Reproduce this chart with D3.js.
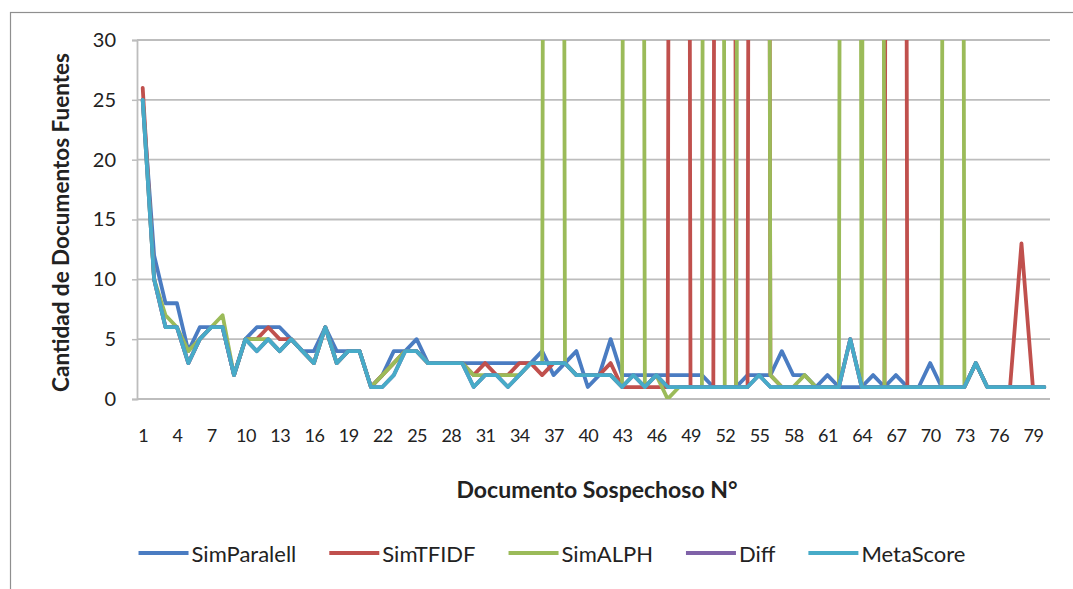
<!DOCTYPE html>
<html>
<head>
<meta charset="utf-8">
<script src="https://cdn.jsdelivr.net/npm/d3@7"></script>
<style>
  html, body { margin: 0; padding: 0; background: #ffffff; }
  svg { display: block; }
  text { font-family: Lato, "Open Sans", sans-serif; fill: #222222; }
</style>
</head>
<body>
<svg id="chart" width="1073" height="589"></svg>
<script>
// Documento sospechoso (x categories)
const documentos = [
   1,  2,  3,  4,  5,  6,  7,  8,  9, 10,
  11, 12, 13, 14, 15, 16, 17, 18, 19, 20,
  21, 22, 23, 24, 25, 26, 27, 28, 29, 30,
  31, 32, 33, 34, 35, 36, 37, 38, 39, 40,
  41, 42, 43, 44, 45, 46, 47, 48, 49, 50,
  51, 52, 53, 54, 55, 56, 57, 58, 59, 60,
  61, 62, 63, 64, 65, 66, 67, 68, 69, 70,
  71, 72, 73, 74, 75, 76, 77, 78, 79, 80
];

// Cantidad de documentos fuentes per method
const simParalell = [
  25, 12,  8,  8,  4,  6,  6,  6,  2,  5,
   6,  6,  6,  5,  4,  4,  6,  4,  4,  4,
   1,  2,  4,  4,  5,  3,  3,  3,  3,  3,
   3,  3,  3,  3,  3,  4,  2,  3,  4,  1,
   2,  5,  2,  2,  2,  2,  2,  2,  2,  2,
   1,  1,  1,  2,  2,  2,  4,  2,  2,  1,
   2,  1,  1,  1,  2,  1,  2,  1,  1,  3,
   1,  1,  1,  3,  1,  1,  1,  1,  1,  1
];
const simTFIDF = [
  26, 10,  6,  6,  3,  5,  6,  6,  2,  5,
   5,  6,  5,  5,  4,  3,  6,  3,  4,  4,
   1,  2,  3,  4,  4,  3,  3,  3,  3,  2,
   3,  2,  2,  3,  3,  2,  3,  3,  2,  2,
   2,  3,  1,  1,  1,  1,  1, 500, 1,  1,
   1, 500, 1,  1, 500, 2,  1,  1,  1,  1,
   1,  1,  5,  1,  1,  1, 500, 1,  1,  1,
   1,  1,  1,  3,  1,  1,  1, 13,  1,  1
];
const simALPH = [
  25, 10,  7,  6,  4,  5,  6,  7,  2,  5,
   5,  5,  4,  5,  4,  3,  6,  3,  4,  4,
   1,  2,  3,  4,  4,  3,  3,  3,  3,  2,
   2,  2,  2,  2,  3,  3, 500, 3,  2,  2,
   2,  2,  1, 500, 1,  2,  0,  1,  1,  1,
 500,  1,  1, 500, 500, 2, 1,  1,  2,  1,
   1,  1, 500, 1, 500, 1,  1,  1,  1,  1,
   1, 500, 1,  3,  1,  1,  1,  1,  1,  1
];
const diff = [
  25, 10,  6,  6,  3,  5,  6,  6,  2,  5,
   4,  5,  4,  5,  4,  3,  6,  3,  4,  4,
   1,  1,  2,  4,  4,  3,  3,  3,  3,  1,
   2,  2,  1,  2,  3,  3,  3,  3,  2,  2,
   2,  2,  1,  2,  1,  2,  1,  1,  1,  1,
   1,  1,  1,  1,  2,  1,  1,  1,  1,  1,
   1,  1,  5,  1,  1,  1,  1,  1,  1,  1,
   1,  1,  1,  3,  1,  1,  1,  1,  1,  1
];
const metaScore = [
  25, 10,  6,  6,  3,  5,  6,  6,  2,  5,
   4,  5,  4,  5,  4,  3,  6,  3,  4,  4,
   1,  1,  2,  4,  4,  3,  3,  3,  3,  1,
   2,  2,  1,  2,  3,  3,  3,  3,  2,  2,
   2,  2,  1,  2,  1,  2,  1,  1,  1,  1,
   1,  1,  1,  1,  2,  1,  1,  1,  1,  1,
   1,  1,  5,  1,  1,  1,  1,  1,  1,  1,
   1,  1,  1,  3,  1,  1,  1,  1,  1,  1
];

const seriesNames = ["SimParalell", "SimTFIDF", "SimALPH", "Diff", "MetaScore"];
const seriesColors = ["#4a7cc2", "#c0504d", "#9bbb59", "#7f62a8", "#47abc8"];
const yTicks = [0, 5, 10, 15, 20, 25, 30];
const xTickLabels = [1, 4, 7, 10, 13, 16, 19, 22, 25, 28, 31, 34, 37, 40, 43, 46, 49, 52, 55, 58, 61, 64, 67, 70, 73, 76, 79];
const yTitle = "Cantidad de Documentos Fuentes";
const xTitle = "Documento Sospechoso N°";

const seriesValues = [simParalell, simTFIDF, simALPH, diff, metaScore];

const svg = d3.select("#chart");
const plot = { left: 137, right: 1050, top: 40, bottom: 399 };

// outer chart frame
svg.append("rect")
  .attr("x", 10.5).attr("y", 12.5)
  .attr("width", 1200).attr("height", 700)
  .attr("fill", "none").attr("stroke", "#8f8f8f").attr("stroke-width", 1.2);

const x = d3.scalePoint().domain(documentos).range([plot.left, plot.right]).padding(0.5);
const y = d3.scaleLinear().domain([0, 30]).range([plot.bottom, plot.top]);

// horizontal gridlines
svg.append("g")
  .selectAll("line")
  .data(yTicks)
  .join("line")
  .attr("x1", plot.left).attr("x2", plot.right)
  .attr("y1", d => y(d)).attr("y2", d => y(d))
  .attr("stroke", "#bdbdbd").attr("stroke-width", 1.8);

// y axis
const yAxis = svg.append("g")
  .attr("transform", `translate(${plot.left},0)`)
  .call(d3.axisLeft(y).tickValues(yTicks).tickSize(5).tickPadding(16).tickFormat(d3.format("d")));
yAxis.select(".domain").attr("stroke", "#bdbdbd").attr("stroke-width", 1.8);
yAxis.selectAll(".tick line").attr("stroke", "#bdbdbd").attr("stroke-width", 1.5);
yAxis.selectAll(".tick text")
  .style("font-family", "Lato, 'Open Sans', sans-serif")
  .style("font-size", "20px").attr("fill", "#222222");

// x axis labels
const xAxis = svg.append("g")
  .attr("transform", `translate(0,${plot.bottom})`)
  .call(d3.axisBottom(x).tickValues(xTickLabels).tickSize(0).tickPadding(30));
xAxis.select(".domain").remove();
xAxis.selectAll(".tick text")
  .style("font-family", "Lato, 'Open Sans', sans-serif")
  .style("font-size", "18px").style("letter-spacing", "-0.6px").attr("fill", "#222222");

// clip to plot area
svg.append("clipPath").attr("id", "plot-clip")
  .append("rect")
  .attr("x", plot.left).attr("y", plot.top)
  .attr("width", plot.right - plot.left).attr("height", plot.bottom - plot.top);

const line = d3.line()
  .x((d, i) => x(documentos[i]))
  .y(d => y(d));

svg.append("g")
  .attr("clip-path", "url(#plot-clip)")
  .selectAll("path")
  .data(seriesValues)
  .join("path")
  .attr("d", d => line(d))
  .attr("fill", "none")
  .attr("stroke", (d, i) => seriesColors[i])
  .attr("stroke-width", 3.8)
  .attr("stroke-linejoin", "round")
  .attr("stroke-linecap", "round");

// axis titles
svg.append("text")
  .attr("transform", `translate(60,${(plot.top + plot.bottom) / 2 + 3}) rotate(-90)`)
  .attr("text-anchor", "middle")
  .attr("dominant-baseline", "central")
  .style("font-size", "22.5px").style("font-weight", "bold")
  .text(yTitle);

svg.append("text")
  .attr("x", 597).attr("y", 489)
  .attr("text-anchor", "middle")
  .attr("dominant-baseline", "central")
  .style("font-size", "23px").style("font-weight", "bold")
  .text(xTitle);

// legend
const legend = svg.append("g").attr("transform", "translate(0,553)");
const lineLen = 50, gap = 3, itemGap = 33;
const items = legend.selectAll("g").data(seriesNames).join("g");
items.append("line")
  .attr("x1", 0).attr("x2", lineLen).attr("y1", 0).attr("y2", 0)
  .attr("stroke", (d, i) => seriesColors[i]).attr("stroke-width", 4);
items.append("text")
  .attr("x", lineLen + gap).attr("y", 0)
  .attr("dominant-baseline", "central")
  .style("font-size", "22px")
  .text(d => d);
let cursor = 0;
const offsets = [];
items.each(function () {
  const w = d3.select(this).select("text").node().getComputedTextLength();
  offsets.push(cursor);
  cursor += lineLen + gap + w + itemGap;
});
const total = cursor - itemGap;
const startX = 552 - total / 2;
items.attr("transform", (d, i) => `translate(${startX + offsets[i]},0)`);
</script>
</body>
</html>
